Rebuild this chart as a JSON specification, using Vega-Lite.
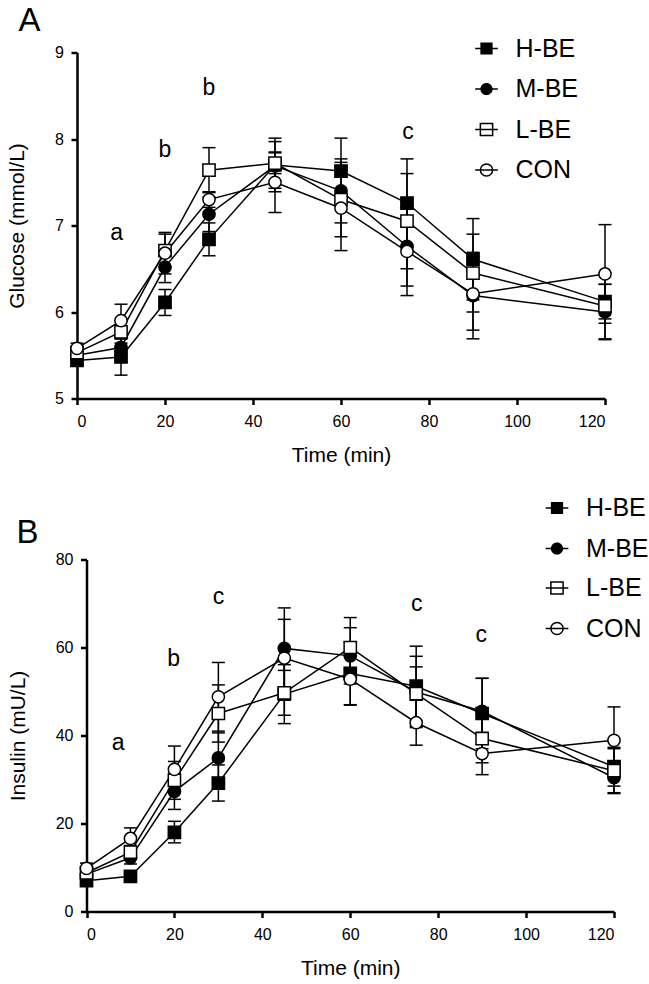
{
  "$schema": "https://vega.github.io/schema/vega-lite/v6.json",
  "background": "white",
  "padding": {"left": 6, "top": 4.5, "right": 2, "bottom": 2},
  "config": {
    "font": "Liberation Sans",
    "view": {"stroke": null},
    "axis": {"grid": false, "domainColor": "black", "domainWidth": 2.5, "tickColor": "black", "tickWidth": 2.5, "tickSize": 6, "labelFontSize": 16, "labelColor": "black", "labelFont": "Liberation Sans", "titleFont": "Liberation Sans", "titleFontSize": 21, "titleFontWeight": "normal", "titleColor": "black"},
    "axisX": {"labelPadding": 9, "titlePadding": 15},
    "axisY": {"labelPadding": 7.5, "titlePadding": 27},
    "legend": {"orient": "none", "title": null, "padding": 0, "labelFontSize": 25, "labelFont": "Liberation Sans", "labelColor": "black", "symbolSize": 150, "symbolStrokeWidth": 1.5, "symbolStrokeColor": "black", "rowPadding": 14.5, "labelOffset": 16.5}
  },
  "datasets": {
    "glu": [
      {"t": 0, "g": "H-BE", "m": 5.44, "lo": 5.38, "hi": 5.50},
      {"t": 0, "g": "M-BE", "m": 5.50, "lo": 5.44, "hi": 5.56},
      {"t": 0, "g": "L-BE", "m": 5.53, "lo": 5.46, "hi": 5.60},
      {"t": 0, "g": "CON", "m": 5.58, "lo": 5.52, "hi": 5.64},
      {"t": 10, "g": "H-BE", "m": 5.48, "lo": 5.27, "hi": 5.69},
      {"t": 10, "g": "M-BE", "m": 5.59, "lo": 5.49, "hi": 5.69},
      {"t": 10, "g": "L-BE", "m": 5.77, "lo": 5.64, "hi": 5.90},
      {"t": 10, "g": "CON", "m": 5.90, "lo": 5.71, "hi": 6.09},
      {"t": 20, "g": "H-BE", "m": 6.11, "lo": 5.96, "hi": 6.26},
      {"t": 20, "g": "M-BE", "m": 6.52, "lo": 6.34, "hi": 6.70},
      {"t": 20, "g": "L-BE", "m": 6.71, "lo": 6.52, "hi": 6.90},
      {"t": 20, "g": "CON", "m": 6.68, "lo": 6.44, "hi": 6.92},
      {"t": 30, "g": "H-BE", "m": 6.84, "lo": 6.65, "hi": 7.03},
      {"t": 30, "g": "M-BE", "m": 7.13, "lo": 6.93, "hi": 7.33},
      {"t": 30, "g": "L-BE", "m": 7.64, "lo": 7.38, "hi": 7.90},
      {"t": 30, "g": "CON", "m": 7.30, "lo": 7.21, "hi": 7.39},
      {"t": 45, "g": "H-BE", "m": 7.70, "lo": 7.39, "hi": 8.01},
      {"t": 45, "g": "M-BE", "m": 7.69, "lo": 7.43, "hi": 7.97},
      {"t": 45, "g": "L-BE", "m": 7.72, "lo": 7.60, "hi": 7.84},
      {"t": 45, "g": "CON", "m": 7.50, "lo": 7.15, "hi": 7.85},
      {"t": 60, "g": "H-BE", "m": 7.63, "lo": 7.25, "hi": 8.01},
      {"t": 60, "g": "M-BE", "m": 7.40, "lo": 7.03, "hi": 7.77},
      {"t": 60, "g": "L-BE", "m": 7.30, "lo": 6.87, "hi": 7.73},
      {"t": 60, "g": "CON", "m": 7.20, "lo": 6.71, "hi": 7.69},
      {"t": 75, "g": "H-BE", "m": 7.26, "lo": 6.75, "hi": 7.77},
      {"t": 75, "g": "M-BE", "m": 6.76, "lo": 6.30, "hi": 7.22},
      {"t": 75, "g": "L-BE", "m": 7.05, "lo": 6.50, "hi": 7.60},
      {"t": 75, "g": "CON", "m": 6.70, "lo": 6.19, "hi": 7.21},
      {"t": 90, "g": "H-BE", "m": 6.61, "lo": 6.14, "hi": 7.08},
      {"t": 90, "g": "M-BE", "m": 6.19, "lo": 5.69, "hi": 6.69},
      {"t": 90, "g": "L-BE", "m": 6.45, "lo": 6.00, "hi": 6.90},
      {"t": 90, "g": "CON", "m": 6.21, "lo": 5.79, "hi": 6.63},
      {"t": 120, "g": "H-BE", "m": 6.12, "lo": 5.92, "hi": 6.32},
      {"t": 120, "g": "M-BE", "m": 6.00, "lo": 5.68, "hi": 6.32},
      {"t": 120, "g": "L-BE", "m": 6.07, "lo": 5.69, "hi": 6.45},
      {"t": 120, "g": "CON", "m": 6.44, "lo": 5.87, "hi": 7.01}
    ],
    "ins": [
      {"t": 0, "g": "H-BE", "m": 7.0, "lo": 5.8, "hi": 8.2},
      {"t": 0, "g": "M-BE", "m": 8.5, "lo": 7.3, "hi": 9.7},
      {"t": 0, "g": "L-BE", "m": 8.8, "lo": 7.6, "hi": 10.0},
      {"t": 0, "g": "CON", "m": 9.8, "lo": 8.6, "hi": 11.0},
      {"t": 10, "g": "H-BE", "m": 8.0, "lo": 7.0, "hi": 9.0},
      {"t": 10, "g": "M-BE", "m": 12.2, "lo": 10.8, "hi": 13.6},
      {"t": 10, "g": "L-BE", "m": 13.5, "lo": 12.0, "hi": 15.0},
      {"t": 10, "g": "CON", "m": 16.6, "lo": 14.2, "hi": 19.0},
      {"t": 20, "g": "H-BE", "m": 18.0, "lo": 15.6, "hi": 20.5},
      {"t": 20, "g": "M-BE", "m": 27.3, "lo": 23.2, "hi": 31.4},
      {"t": 20, "g": "L-BE", "m": 29.8, "lo": 25.5, "hi": 34.1},
      {"t": 20, "g": "CON", "m": 32.3, "lo": 27.0, "hi": 37.6},
      {"t": 30, "g": "H-BE", "m": 29.2, "lo": 25.1, "hi": 33.3},
      {"t": 30, "g": "M-BE", "m": 34.9, "lo": 29.2, "hi": 40.6},
      {"t": 30, "g": "L-BE", "m": 45.0, "lo": 38.5, "hi": 51.5},
      {"t": 30, "g": "CON", "m": 48.8, "lo": 41.0, "hi": 56.6},
      {"t": 45, "g": "H-BE", "m": 49.4, "lo": 42.7, "hi": 56.1},
      {"t": 45, "g": "M-BE", "m": 59.8, "lo": 50.6, "hi": 69.0},
      {"t": 45, "g": "L-BE", "m": 49.7, "lo": 44.6, "hi": 54.8},
      {"t": 45, "g": "CON", "m": 57.6, "lo": 48.8, "hi": 66.4},
      {"t": 60, "g": "H-BE", "m": 54.1, "lo": 47.0, "hi": 61.2},
      {"t": 60, "g": "M-BE", "m": 58.1, "lo": 51.7, "hi": 64.5},
      {"t": 60, "g": "L-BE", "m": 60.0, "lo": 53.2, "hi": 66.8},
      {"t": 60, "g": "CON", "m": 52.8, "lo": 46.9, "hi": 58.7},
      {"t": 75, "g": "H-BE", "m": 51.2, "lo": 42.1, "hi": 60.3},
      {"t": 75, "g": "M-BE", "m": 49.9, "lo": 41.8, "hi": 58.0},
      {"t": 75, "g": "L-BE", "m": 49.5, "lo": 43.4, "hi": 55.6},
      {"t": 75, "g": "CON", "m": 42.9, "lo": 37.8, "hi": 48.0},
      {"t": 90, "g": "H-BE", "m": 45.0, "lo": 37.0, "hi": 53.0},
      {"t": 90, "g": "M-BE", "m": 45.5, "lo": 38.0, "hi": 53.0},
      {"t": 90, "g": "L-BE", "m": 39.3, "lo": 33.8, "hi": 44.8},
      {"t": 90, "g": "CON", "m": 35.9, "lo": 31.1, "hi": 40.7},
      {"t": 120, "g": "H-BE", "m": 32.9, "lo": 28.5, "hi": 37.3},
      {"t": 120, "g": "M-BE", "m": 30.4, "lo": 26.8, "hi": 34.0},
      {"t": 120, "g": "L-BE", "m": 32.0, "lo": 27.0, "hi": 37.0},
      {"t": 120, "g": "CON", "m": 38.9, "lo": 31.3, "hi": 46.5}
    ],
    "gluLetters": [
      {"t": 9, "v": 6.91, "s": "a", "sz": 23},
      {"t": 20, "v": 7.87, "s": "b", "sz": 23},
      {"t": 30, "v": 8.59, "s": "b", "sz": 23},
      {"t": 75.2, "v": 8.08, "s": "c", "sz": 23},
      {"t": -10.8, "v": 9.36, "s": "A", "sz": 33}
    ],
    "insLetters": [
      {"t": 7.2, "v": 38.2, "s": "a", "sz": 23},
      {"t": 19.8, "v": 57.5, "s": "b", "sz": 23},
      {"t": 30, "v": 71.5, "s": "c", "sz": 23},
      {"t": 75.1, "v": 70.0, "s": "c", "sz": 23},
      {"t": 89.8, "v": 62.8, "s": "c", "sz": 23},
      {"t": -13.4, "v": 86.0, "s": "B", "sz": 33}
    ]
  },
  "vconcat": [
    {
      "width": 528,
      "height": 346,
      "layer": [
        {
          "data": {"name": "glu"},
          "mark": {"type": "rule", "color": "black", "strokeWidth": 1.5},
          "encoding": {
            "x": {"field": "t", "type": "quantitative", "scale": {"domain": [0, 120], "nice": false}, "axis": {"values": [0, 20, 40, 60, 80, 100, 120], "title": "Time (min)"}},
            "y": {"field": "lo", "type": "quantitative", "scale": {"domain": [5, 9], "nice": false, "zero": false}, "axis": {"values": [5, 6, 7, 8, 9], "format": "d", "title": "Glucose (mmol/L)"}},
            "y2": {"field": "hi"}
          }
        },
        {
          "data": {"name": "glu"},
          "mark": {"type": "tick", "color": "black", "orient": "horizontal", "size": 13, "thickness": 1.5, "opacity": 1},
          "encoding": {"x": {"field": "t", "type": "quantitative"}, "y": {"field": "lo", "type": "quantitative"}}
        },
        {
          "data": {"name": "glu"},
          "mark": {"type": "tick", "color": "black", "orient": "horizontal", "size": 13, "thickness": 1.5, "opacity": 1},
          "encoding": {"x": {"field": "t", "type": "quantitative"}, "y": {"field": "hi", "type": "quantitative"}}
        },
        {
          "data": {"name": "glu"},
          "mark": {"type": "line", "color": "black", "strokeWidth": 1.5},
          "encoding": {"x": {"field": "t", "type": "quantitative"}, "y": {"field": "m", "type": "quantitative"}, "detail": {"field": "g"}}
        },
        {
          "data": {"name": "glu"},
          "mark": {"type": "point", "stroke": "black", "strokeWidth": 1.5, "size": 150, "opacity": 1, "fillOpacity": 1, "strokeOpacity": 1},
          "encoding": {
            "x": {"field": "t", "type": "quantitative"},
            "y": {"field": "m", "type": "quantitative"},
            "shape": {"field": "g", "type": "nominal", "scale": {"domain": ["H-BE", "M-BE", "L-BE", "CON"], "range": ["square", "circle", "square", "circle"]}, "legend": null},
            "fill": {"field": "g", "type": "nominal", "scale": {"domain": ["H-BE", "M-BE", "L-BE", "CON"], "range": ["black", "black", "white", "white"]}, "legend": null}
          }
        },
        {
          "data": {"name": "glu"},
          "transform": [{"filter": "datum.g == 'H-BE' || datum.g == 'M-BE'"}],
          "mark": {"type": "point", "filled": false, "fill": "black", "stroke": "black", "strokeWidth": 1.5, "size": 0, "opacity": 1},
          "encoding": {
            "x": {"field": "t", "type": "quantitative"},
            "y": {"field": "m", "type": "quantitative"},
            "shape": {"field": "g", "type": "nominal", "scale": {"domain": ["H-BE", "M-BE"], "range": ["M-1.85,-0.13H1.85V0.13H-1.85Z M-1,-1H1V1H-1Z", "M-1.85,-0.13H1.85V0.13H-1.85Z M1,0A1,1 0 1,1 -1,0A1,1 0 1,1 1,0Z"]},
              "legend": {"legendX": 397, "legendY": -16.5, "symbolFillColor": "black"}}
          }
        },
        {
          "data": {"name": "glu"},
          "transform": [{"filter": "datum.g == 'L-BE' || datum.g == 'CON'"}],
          "mark": {"type": "point", "filled": false, "stroke": "black", "strokeWidth": 1.5, "size": 0, "opacity": 1},
          "encoding": {
            "x": {"field": "t", "type": "quantitative"},
            "y": {"field": "m", "type": "quantitative"},
            "shape": {"field": "g", "type": "nominal", "scale": {"domain": ["L-BE", "CON"], "range": ["M-1.85,0H1.85M-1,-1H1V1H-1Z", "M-1.85,0H1.85M1,0A1,1 0 1,1 -1,0A1,1 0 1,1 1,0Z"]},
              "legend": {"legendX": 397, "legendY": 64.5}}
          }
        },
        {
          "data": {"name": "gluLetters"},
          "mark": {"type": "text", "color": "black", "font": "Liberation Sans", "baseline": "middle", "align": "center"},
          "encoding": {
            "x": {"field": "t", "type": "quantitative"},
            "y": {"field": "v", "type": "quantitative"},
            "text": {"field": "s"},
            "size": {"field": "sz", "type": "quantitative", "scale": null}
          }
        }
      ],
      "resolve": {"scale": {"shape": "independent"}, "legend": {"shape": "independent"}}
    },
    {
      "width": 537,
      "height": 352,
      "layer": [
        {
          "data": {"name": "ins"},
          "mark": {"type": "rule", "color": "black", "strokeWidth": 1.5},
          "encoding": {
            "x": {"field": "t", "type": "quantitative", "scale": {"domain": [0, 120], "nice": false, "range": [9.5, 537]}, "axis": {"values": [0, 20, 40, 60, 80, 100, 120], "title": "Time (min)"}},
            "y": {"field": "lo", "type": "quantitative", "scale": {"domain": [0, 80], "nice": false}, "axis": {"values": [0, 20, 40, 60, 80], "title": "Insulin (mU/L)", "offset": -9.5}},
            "y2": {"field": "hi"}
          }
        },
        {
          "data": {"name": "ins"},
          "mark": {"type": "tick", "color": "black", "orient": "horizontal", "size": 13, "thickness": 1.5, "opacity": 1},
          "encoding": {"x": {"field": "t", "type": "quantitative"}, "y": {"field": "lo", "type": "quantitative"}}
        },
        {
          "data": {"name": "ins"},
          "mark": {"type": "tick", "color": "black", "orient": "horizontal", "size": 13, "thickness": 1.5, "opacity": 1},
          "encoding": {"x": {"field": "t", "type": "quantitative"}, "y": {"field": "hi", "type": "quantitative"}}
        },
        {
          "data": {"name": "ins"},
          "mark": {"type": "line", "color": "black", "strokeWidth": 1.5},
          "encoding": {"x": {"field": "t", "type": "quantitative"}, "y": {"field": "m", "type": "quantitative"}, "detail": {"field": "g"}}
        },
        {
          "data": {"name": "ins"},
          "mark": {"type": "point", "stroke": "black", "strokeWidth": 1.5, "size": 150, "opacity": 1, "fillOpacity": 1, "strokeOpacity": 1},
          "encoding": {
            "x": {"field": "t", "type": "quantitative"},
            "y": {"field": "m", "type": "quantitative"},
            "shape": {"field": "g", "type": "nominal", "scale": {"domain": ["H-BE", "M-BE", "L-BE", "CON"], "range": ["square", "circle", "square", "circle"]}, "legend": null},
            "fill": {"field": "g", "type": "nominal", "scale": {"domain": ["H-BE", "M-BE", "L-BE", "CON"], "range": ["black", "black", "white", "white"]}, "legend": null}
          }
        },
        {
          "data": {"name": "ins"},
          "transform": [{"filter": "datum.g == 'H-BE' || datum.g == 'M-BE'"}],
          "mark": {"type": "point", "filled": false, "fill": "black", "stroke": "black", "strokeWidth": 1.5, "size": 0, "opacity": 1},
          "encoding": {
            "x": {"field": "t", "type": "quantitative"},
            "y": {"field": "m", "type": "quantitative"},
            "shape": {"field": "g", "type": "nominal", "scale": {"domain": ["H-BE", "M-BE"], "range": ["M-1.85,-0.13H1.85V0.13H-1.85Z M-1,-1H1V1H-1Z", "M-1.85,-0.13H1.85V0.13H-1.85Z M1,0A1,1 0 1,1 -1,0A1,1 0 1,1 1,0Z"]},
              "legend": {"legendX": 467.5, "legendY": -64, "symbolFillColor": "black"}}
          }
        },
        {
          "data": {"name": "ins"},
          "transform": [{"filter": "datum.g == 'L-BE' || datum.g == 'CON'"}],
          "mark": {"type": "point", "filled": false, "stroke": "black", "strokeWidth": 1.5, "size": 0, "opacity": 1},
          "encoding": {
            "x": {"field": "t", "type": "quantitative"},
            "y": {"field": "m", "type": "quantitative"},
            "shape": {"field": "g", "type": "nominal", "scale": {"domain": ["L-BE", "CON"], "range": ["M-1.85,0H1.85M-1,-1H1V1H-1Z", "M-1.85,0H1.85M1,0A1,1 0 1,1 -1,0A1,1 0 1,1 1,0Z"]},
              "legend": {"legendX": 467.5, "legendY": 16}}
          }
        },
        {
          "data": {"name": "insLetters"},
          "mark": {"type": "text", "color": "black", "font": "Liberation Sans", "baseline": "middle", "align": "center"},
          "encoding": {
            "x": {"field": "t", "type": "quantitative"},
            "y": {"field": "v", "type": "quantitative"},
            "text": {"field": "s"},
            "size": {"field": "sz", "type": "quantitative", "scale": null}
          }
        }
      ],
      "resolve": {"scale": {"shape": "independent"}, "legend": {"shape": "independent"}}
    }
  ],
  "spacing": 30,
  "resolve": {"scale": {"shape": "independent", "fill": "independent", "x": "independent", "y": "independent"}, "legend": {"shape": "independent"}}
}
